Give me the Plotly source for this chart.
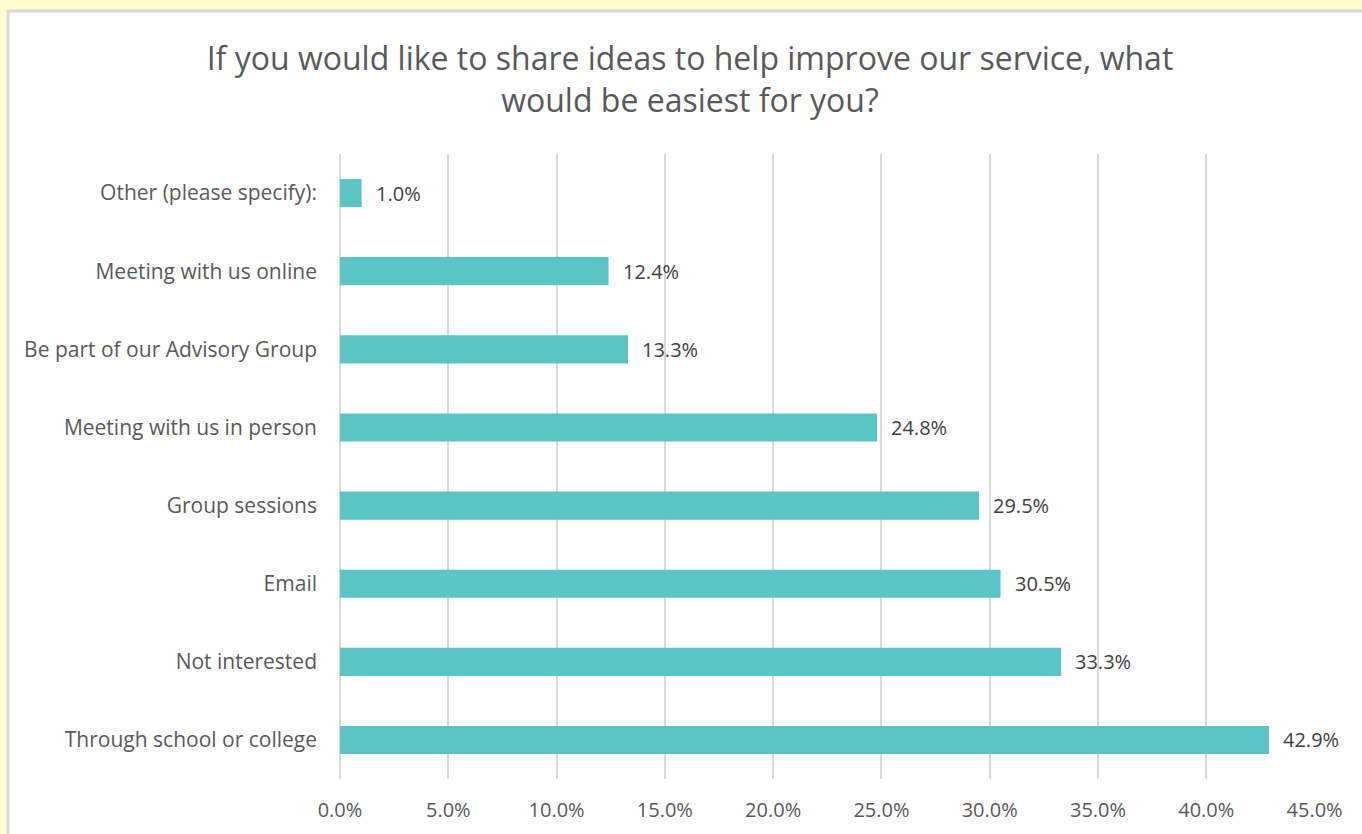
import plotly.graph_objects as go

categories = [
    "Through school or college",
    "Not interested",
    "Email",
    "Group sessions",
    "Meeting with us in person",
    "Be part of our Advisory Group",
    "Meeting with us online",
    "Other (please specify):",
]
percentages = [42.9, 33.3, 30.5, 29.5, 24.8, 13.3, 12.4, 1.0]
x_ticks = [0, 5, 10, 15, 20, 25, 30, 35, 40, 45]
x_tick_labels = [f"{t:.1f}%" for t in x_ticks]

FONT = "Open Sans"
BAR = "#5BC4C4"
GRID = "#D9D9D9"
TEXT = "#595959"

fig = go.Figure()
fig.add_trace(go.Bar(
    x=percentages,
    y=categories,
    orientation="h",
    marker=dict(color=BAR, line=dict(width=0)),
    hoverinfo="skip",
))

# value labels to the right of each bar
for v, c in zip(percentages, categories):
    fig.add_annotation(
        x=v, y=c, xref="x", yref="y",
        text=f"{v:.1f}%", showarrow=False,
        xanchor="left", xshift=12,
        font=dict(family=FONT, size=20, color="#404040"),
    )

# white card with light grey edge on the yellow page
fig.add_shape(
    type="rect", xref="paper", yref="paper",
    x0=-0.3405, x1=1.3, y0=-0.3, y1=1.2288,
    fillcolor="white", line=dict(color=GRID, width=3),
    layer="below",
)

fig.update_layout(
    width=1362, height=834,
    margin=dict(l=340, r=47, t=154, b=55),
    paper_bgcolor="#FFFDCA",
    plot_bgcolor="rgba(0,0,0,0)",
    showlegend=False,
    bargap=0.64,
    title=dict(
        text="If you would like to share ideas to help improve our service, what<br>would be easiest for you?",
        x=0.5066, xref="container", xanchor="center",
        y=0.916, yref="container", yanchor="middle",
        font=dict(family=FONT, size=32, color=TEXT),
    ),
    xaxis=dict(
        range=[0, 45.02], tickvals=x_ticks, ticktext=x_tick_labels,
        showgrid=True, gridcolor=GRID, gridwidth=2,
        zeroline=True, zerolinecolor=GRID, zerolinewidth=2,
        showline=False, ticks="",
        ticklabelstandoff=17,
        tickfont=dict(family=FONT, size=20, color=TEXT),
        fixedrange=True,
    ),
    yaxis=dict(
        showgrid=False, zeroline=False, showline=False, ticks="",
        ticklabelstandoff=22,
        tickfont=dict(family=FONT, size=21, color=TEXT),
        fixedrange=True,
    ),
)

fig.write_html("out.html", config={"displayModeBar": False})
